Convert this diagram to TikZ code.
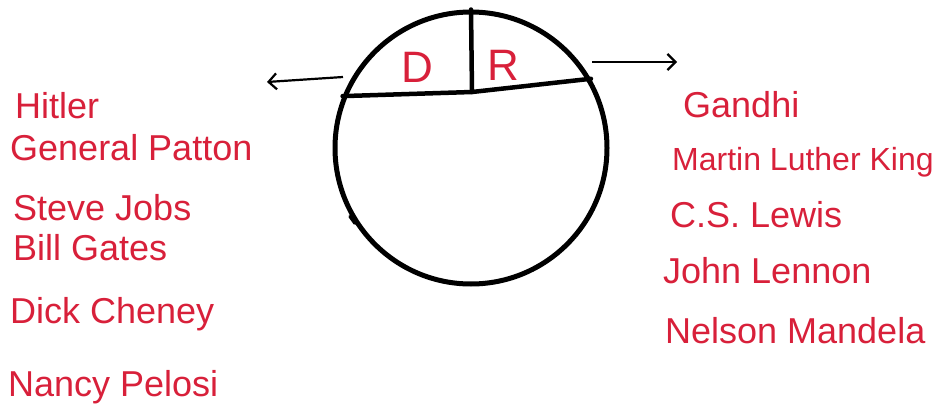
\documentclass[tikz,border=0pt]{standalone}
\usepackage{fontspec}
\setmainfont{Liberation Sans}
\usetikzlibrary{arrows.meta, positioning}
\definecolor{figred}{HTML}{D8203A}
\tikzset{
  figring/.style={circle, draw=black, line width=5pt, minimum size=272pt, inner sep=0pt},
  figrule/.style={line width=4.5pt, black, line cap=round},
  figarrow/.style={-{Straight Barb[length=8pt,width=16pt]}, line width=2.2pt, black},
  figname/.style={anchor=base west, text=figred, font=\fontsize{36}{40}\selectfont, inner sep=0pt},
  figletter/.style={text=figred, font=\fontsize{44}{48}\selectfont, inner sep=0pt},
}
\begin{document}
\begin{tikzpicture}[x=1pt, y=-1pt]
  \useasboundingbox (0,0) rectangle (938,415);
  % Kreis mit D/R-Abschnitt
  \node[figring] (party) at (471,148) {};
  \coordinate (split) at (472,92);
  \draw[figrule] (party.158) -- (split) -- (party.30);
  \draw[figrule] (party.north) -- (split);
  \draw[line width=3pt, line cap=round] (party.213) -- ++(-5,-7);
  \node[figletter] (dem) at (417,67) {D};
  \node[figletter] (rep) at (503,65) {R};
  % Pfeile nach links/rechts
  \coordinate (lfrom) at (343,77);
  \coordinate (lto) at (267,82);
  \coordinate (rfrom) at (592,62);
  \coordinate (rto) at (677,62);
  \draw[figarrow] (lfrom) -- (lto);
  \draw[figarrow] (rfrom) -- (rto);
  % linke Liste
  \node[figname] (hitler) at (15,118) {Hitler};
  \node[figname] (patton) at (10,160) {General Patton};
  \node[figname] (jobs) at (13,220) {Steve Jobs};
  \node[figname] (gates) at (13,260) {Bill Gates};
  \node[figname] (cheney) at (10,323) {Dick Cheney};
  \node[figname] (pelosi) at (8,396) {Nancy Pelosi};
  % rechte Liste
  \node[figname] (gandhi) at (683,117) {Gandhi};
  \node[figname, font=\fontsize{32}{36}\selectfont] (king) at (672,170) {Martin Luther King};
  \node[figname] (lewis) at (670,227) {C.S. Lewis};
  \node[figname] (lennon) at (663,283) {John Lennon};
  \node[figname] (mandela) at (665,343) {Nelson Mandela};
\end{tikzpicture}
\end{document}
